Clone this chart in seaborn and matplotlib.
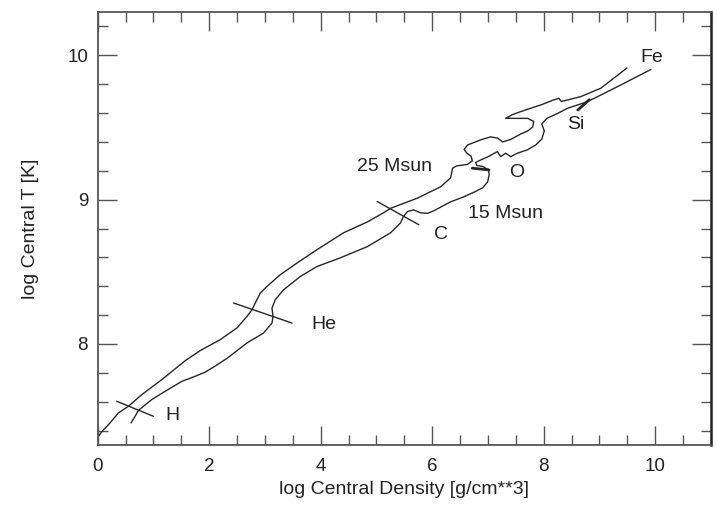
import numpy as np
import pandas as pd
import seaborn as sns
import matplotlib.pyplot as plt
from matplotlib.ticker import MultipleLocator

# central density / temperature tracks
rho_25 = [0.0, 0.072, 0.221, 0.370, 0.550, 0.790, 1.150, 1.568, 1.838, 2.197,
          2.497, 2.677, 2.767, 2.826, 2.916, 3.036, 3.275, 3.575, 3.904, 4.407,
          4.838, 5.126, 5.252, 5.731, 6.150, 6.330, 6.365, 6.437, 6.630, 6.719,
          6.698, 6.617, 6.572, 6.635, 6.869, 7.048, 7.174, 7.264, 7.407, 7.587,
          7.713, 7.803, 7.821, 7.713, 7.497, 7.318, 7.443, 7.587, 7.946, 8.180,
          8.270, 8.315, 8.431, 8.665, 9.024, 9.492]
temp_25 = [7.352, 7.392, 7.453, 7.522, 7.568, 7.649, 7.753, 7.884, 7.954, 8.030,
           8.111, 8.191, 8.237, 8.284, 8.353, 8.399, 8.480, 8.561, 8.646, 8.770,
           8.846, 8.909, 8.940, 9.010, 9.089, 9.151, 9.218, 9.234, 9.244, 9.269,
           9.300, 9.324, 9.348, 9.379, 9.414, 9.435, 9.426, 9.400, 9.417, 9.455,
           9.476, 9.504, 9.542, 9.563, 9.563, 9.564, 9.590, 9.610, 9.656, 9.691,
           9.702, 9.680, 9.691, 9.714, 9.772, 9.912]

rho_15 = [0.598, 0.670, 0.729, 0.970, 1.209, 1.509, 1.748, 1.928, 2.107, 2.318,
          2.677, 2.975, 3.126, 3.144, 3.126, 3.185, 3.335, 3.635, 3.935, 4.353,
          4.838, 5.252, 5.431, 5.485, 5.557, 5.665, 5.790, 5.916, 6.024, 6.330,
          6.563, 6.761, 6.905, 6.994, 7.021, 7.012, 6.905, 6.797, 6.779, 6.869,
          6.994, 7.169, 7.228, 7.318, 7.407, 7.528, 7.707, 7.857, 7.965, 8.010,
          7.965, 8.054, 8.252, 8.426, 8.606, 8.785, 9.024, 9.324, 9.923]
temp_15 = [7.453, 7.499, 7.540, 7.615, 7.672, 7.741, 7.776, 7.805, 7.847, 7.900,
           8.007, 8.076, 8.145, 8.191, 8.249, 8.307, 8.376, 8.468, 8.537, 8.597,
           8.675, 8.770, 8.839, 8.884, 8.918, 8.929, 8.909, 8.905, 8.922, 8.985,
           9.019, 9.054, 9.082, 9.123, 9.172, 9.206, 9.230, 9.237, 9.258, 9.275,
           9.296, 9.333, 9.298, 9.322, 9.298, 9.322, 9.345, 9.379, 9.419, 9.476,
           9.524, 9.563, 9.598, 9.633, 9.656, 9.679, 9.725, 9.783, 9.902]

# burning-stage ignition marks: (x0, y0, x1, y1)
marks = {
    'H': (0.341, 7.603, 0.999, 7.499),
    'He': (2.436, 8.284, 3.485, 8.145),
    'C': (5.013, 8.987, 5.760, 8.826),
    'O': (6.719, 9.218, 7.018, 9.206),
    'Si': (8.611, 9.621, 8.814, 9.691),
}

labels = ['Fe', 'Si', 'O', '25 Msun', '15 Msun', 'C', 'He', 'H']
label_x = [9.94, 8.575, 7.515, 5.33, 7.318, 6.152, 4.048, 1.335]
label_y = [9.988, 9.518, 9.185, 9.227, 8.902, 8.756, 8.134, 7.504]

sns.set_theme(style='ticks')
plt.rcParams['font.family'] = ['Liberation Sans', 'DejaVu Sans']

fig = plt.figure(figsize=(7.17, 5.05), dpi=100)
ax = fig.add_axes([0.1363, 0.1188, 0.8553, 0.8574])

line_col = '#262626'
df25 = pd.DataFrame({'rho': rho_25, 'T': temp_25})
df15 = pd.DataFrame({'rho': rho_15, 'T': temp_15})
sns.lineplot(data=df25, x='rho', y='T', sort=False, estimator=None,
             color=line_col, lw=1.0, ax=ax)
sns.lineplot(data=df15, x='rho', y='T', sort=False, estimator=None,
             color=line_col, lw=1.0, ax=ax)

for name, (x0, y0, x1, y1) in marks.items():
    w = 2.0 if name in ('O', 'Si') else 1.0
    ax.plot([x0, x1], [y0, y1], color=line_col, lw=w)

for txt, lx, ly in zip(labels, label_x, label_y):
    ax.text(lx, ly, txt, fontsize=14, ha='center', va='center', color='#222222')

ax.set_xlim(0, 11)
ax.set_ylim(7.3, 10.3)
ax.xaxis.set_major_locator(MultipleLocator(2))
ax.xaxis.set_minor_locator(MultipleLocator(0.5))
ax.yaxis.set_major_locator(MultipleLocator(1))
ax.yaxis.set_minor_locator(MultipleLocator(0.2))

ax.tick_params(which='both', direction='in', top=True, right=True,
               color='#555555', width=1.0, labelsize=13.5, labelcolor='#222222')
ax.tick_params(which='major', length=13.5)
ax.tick_params(which='minor', length=7.5)
ax.tick_params(axis='x', pad=9)
ax.tick_params(axis='y', pad=7)

for side in ['left', 'bottom', 'top']:
    ax.spines[side].set_color('#555555')
    ax.spines[side].set_linewidth(1.3)
ax.spines['right'].set_color('#222222')
ax.spines['right'].set_linewidth(1.8)

ax.set_xlabel('log Central Density [g/cm**3]', fontsize=14, color='#222222', labelpad=5)
ax.set_ylabel('log Central T [K]', fontsize=14, color='#222222', labelpad=20)

fig.savefig('out.png', dpi=100)
